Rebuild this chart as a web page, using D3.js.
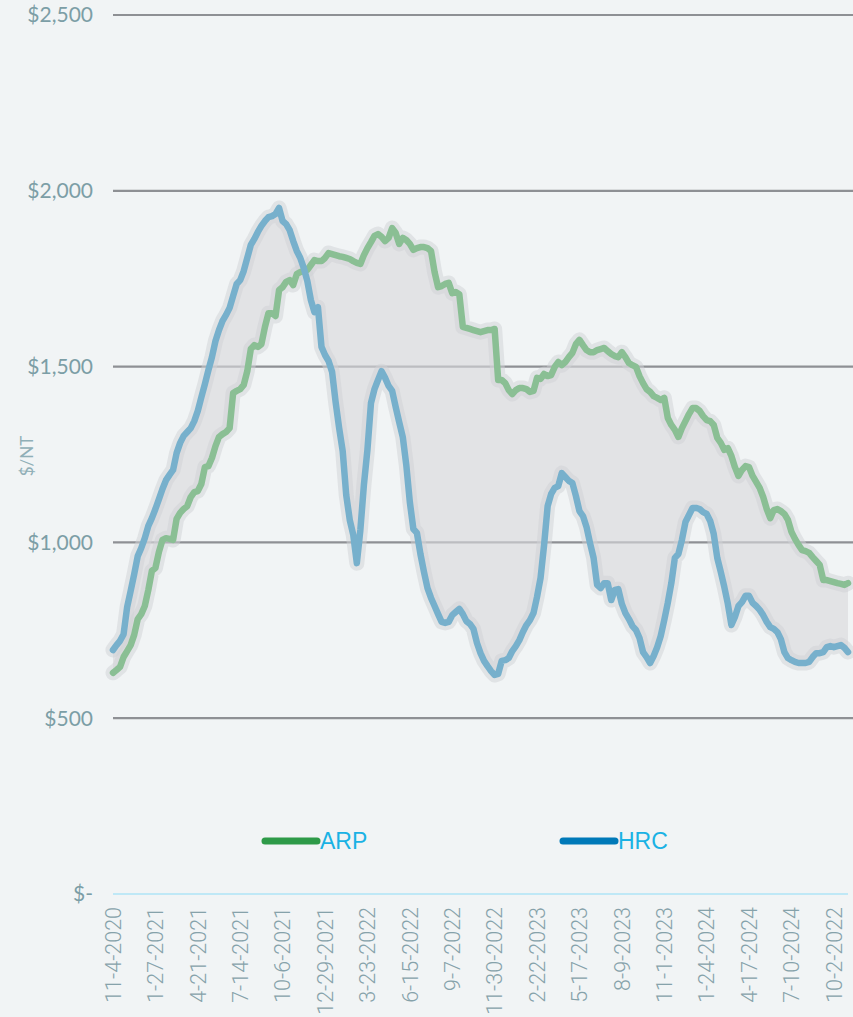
<!DOCTYPE html>
<html>
<head>
<meta charset="utf-8">
<script src="https://cdn.jsdelivr.net/npm/d3@7"></script>
<style>
  html, body { margin: 0; padding: 0; background: #f1f4f5; }
  svg { display: block; }
</style>
</head>
<body>
<div id="chart"></div>
<script>
// ---- DATA (weekly, starting 11-4-2020) ----
const seriesNames = ["ARP", "HRC"];
const arp = [629,637,646,674,691,708,737,782,796,819,865,919,927,973,1007,1012,1010,1007,1067,1084,
 1095,1103,1129,1143,1146,1166,1214,1217,1240,1274,1300,1308,1314,1325,1425,1431,1436,1448,1487,1550,
 1561,1556,1564,1613,1652,1652,1644,1718,1726,1741,1746,1732,1763,1769,1772,1775,1789,1803,1800,1800,
 1809,1823,1820,1817,1814,1812,1809,1806,1800,1795,1792,1817,1837,1854,1872,1877,1869,1857,1866,1894,
 1880,1849,1866,1860,1849,1832,1837,1840,1840,1837,1829,1769,1726,1729,1735,1738,1709,1712,1706,1613,
 1610,1607,1604,1601,1598,1601,1604,1604,1607,1462,1462,1453,1433,1422,1433,1439,1439,1436,1428,1431,
 1468,1465,1479,1473,1476,1499,1513,1504,1513,1527,1539,1564,1576,1561,1547,1541,1541,1547,1550,1553,
 1544,1536,1530,1527,1541,1527,1510,1504,1499,1473,1453,1436,1428,1416,1411,1405,1411,1354,1334,1320,
 1300,1325,1345,1365,1382,1382,1374,1359,1348,1345,1334,1297,1283,1263,1268,1246,1214,1189,1206,1217,
 1214,1189,1172,1155,1129,1095,1069,1092,1095,1089,1081,1064,1030,1010,993,978,975,970,958,947,
 936,893,893,890,887,884,882,879,884];
const hrc = [694,708,720,739,816,862,910,961,984,1012,1047,1069,1095,1123,1152,1177,1192,1206,1254,1283,
 1303,1314,1325,1345,1374,1413,1450,1490,1527,1573,1604,1630,1647,1667,1701,1735,1746,1772,1809,1846,
 1863,1883,1900,1914,1925,1928,1934,1951,1914,1905,1888,1857,1829,1809,1780,1743,1689,1655,1669,1556,
 1533,1516,1485,1399,1325,1260,1135,1064,1021,941,1035,1163,1263,1396,1436,1462,1487,1468,1445,1431,
 1385,1342,1300,1220,1115,1038,1027,967,916,870,842,819,796,774,771,774,793,802,811,796,
 776,768,754,714,685,663,648,634,623,626,663,665,671,691,705,722,745,765,779,799,
 845,899,993,1103,1138,1155,1160,1197,1186,1175,1169,1132,1089,1075,1044,998,956,879,870,884,
 884,836,865,867,825,799,782,762,751,728,688,674,657,677,702,734,779,828,884,956,
 967,1007,1058,1078,1098,1098,1095,1086,1081,1061,1024,956,916,873,825,765,788,819,830,848,
 848,828,819,808,793,774,759,754,745,725,688,671,665,660,657,657,657,660,674,685,
 685,688,702,705,702,705,708,700,688];
const tickLabels = ["11-4-2020","1-27-2021","4-21-2021","7-14-2021","10-6-2021","12-29-2021",
 "3-23-2022","6-15-2022","9-7-2022","11-30-2022","2-22-2023","5-17-2023","8-9-2023","11-1-2023",
 "1-24-2024","4-17-2024","7-10-2024","10-2-2022"];
const tickEvery = 12;
const yTicks = [0, 500, 1000, 1500, 2000, 2500];
const yTickLabels = ["$-", "$500", "$1,000", "$1,500", "$2,000", "$2,500"];
const yTitle = "$/NT";

// ---- LAYOUT ----
const W = 853, H = 1017;
const svg = d3.select("#chart").append("svg").attr("width", W).attr("height", H);
svg.append("rect").attr("width", W).attr("height", H).attr("fill", "#f1f4f5");

const idx = d3.range(arp.length);
const x = d3.scalePoint().domain(idx).range([113, 848]);
const y = d3.scaleLinear().domain([0, 2500]).range([894, 15]);

const textColor = "#7c9ea6";

// gridlines
svg.append("g").selectAll("line").data(yTicks.filter(d => d > 0)).join("line")
  .attr("x1", 113).attr("x2", W).attr("y1", d => y(d)).attr("y2", d => y(d))
  .attr("stroke", "#8e9094").attr("stroke-width", 2.2);
// zero line
svg.append("line").attr("x1", 113).attr("x2", 848).attr("y1", y(0)).attr("y2", y(0))
  .attr("stroke", "#bfe8f6").attr("stroke-width", 2);

// y tick labels
svg.append("g").selectAll("text").data(yTicks).join("text")
  .attr("x", 93).attr("y", d => y(d)).attr("dy", "0.35em")
  .attr("text-anchor", "end").attr("font-family", "Lato, 'Noto Sans', sans-serif")
  .attr("font-size", 21).attr("fill", textColor)
  .text((d, i) => yTickLabels[i]);

// y title
svg.append("text").attr("transform", `translate(33,456) rotate(-90)`)
  .attr("text-anchor", "middle").attr("font-family", "Lato, sans-serif")
  .attr("font-size", 17).attr("fill", "#90afb7").text(yTitle);

// x tick labels
const tickIdx = idx.filter(i => i % tickEvery === 0);
svg.append("g").selectAll("text").data(tickIdx).join("text")
  .attr("transform", d => `translate(${x(d)},907) rotate(-90)`)
  .attr("text-anchor", "end").attr("dy", "0.36em")
  .attr("font-family", "Roboto, sans-serif").attr("font-weight", 300)
  .attr("font-size", 21.5).attr("fill", "#86a2aa")
  .text((d, i) => tickLabels[i]);

// shaded area between the two series
const area = d3.area()
  .x(i => x(i)).y0(i => y(arp[i])).y1(i => y(hrc[i]));
svg.append("path").datum(idx).attr("d", area)
  .attr("fill", "#d8d9dc").attr("fill-opacity", 0.62);

const line = arr => d3.line().x(i => x(i)).y(i => y(arr[i]))(idx);
const lines = [
  { data: arp, color: "#8abf94" },
  { data: hrc, color: "#77b0cc" }
];
lines.forEach(s => {
  svg.append("path").attr("d", line(s.data)).attr("fill", "none")
    .attr("stroke", "#cfd2d5").attr("stroke-opacity", 0.5).attr("stroke-width", 15)
    .attr("stroke-linejoin", "round").attr("stroke-linecap", "round");
});
lines.forEach(s => {
  svg.append("path").attr("d", line(s.data)).attr("fill", "none")
    .attr("stroke", s.color).attr("stroke-width", 6.5)
    .attr("stroke-linejoin", "round").attr("stroke-linecap", "round");
});

// legend
const legend = [
  { name: seriesNames[0], color: "#2e9a48", x: 262 },
  { name: seriesNames[1], color: "#0079b8", x: 560 }
];
legend.forEach(l => {
  svg.append("line").attr("x1", l.x + 3).attr("x2", l.x + 55).attr("y1", 841).attr("y2", 841)
    .attr("stroke", l.color).attr("stroke-width", 7).attr("stroke-linecap", "round");
  svg.append("text").attr("x", l.x + 58).attr("y", 849)
    .attr("font-family", "'Liberation Sans', Arial, sans-serif").attr("font-size", 23)
    .attr("fill", "#1ab2e4").text(l.name);
});
</script>
</body>
</html>
